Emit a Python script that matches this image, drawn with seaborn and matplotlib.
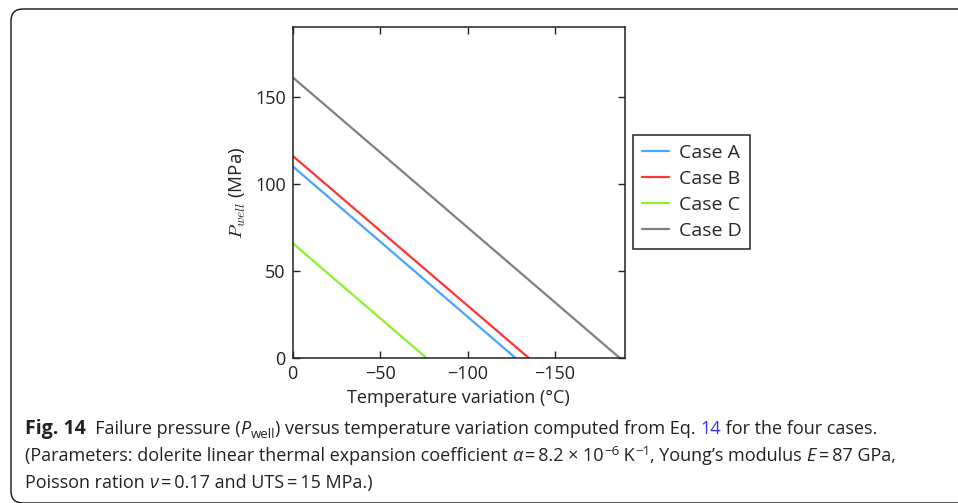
import numpy as np
import pandas as pd
import matplotlib.pyplot as plt
import seaborn as sns
from matplotlib.patches import FancyBboxPatch
from matplotlib.transforms import IdentityTransform

# Values: each case is a straight line from
# (0, P at zero temperature change) down to (zero crossing, 0).
cases = ['Case A', 'Case B', 'Case C', 'Case D']
p_at_zero = [110, 116, 66, 161]
dt_at_failure = [-127.6, -135.2, -76.7, -187.2]
colors = ['#49a3ff', '#ff3434', '#8af22a', '#808080']

rows = []
for c, p0, dt in zip(cases, p_at_zero, dt_at_failure):
    rows.append((c, 0, p0))
    rows.append((c, dt, 0))
df = pd.DataFrame(rows, columns=['case', 'dT', 'P'])

sns.set_style('ticks')
plt.rcParams['font.family'] = ['Open Sans', 'DejaVu Sans']
plt.rcParams['mathtext.fontset'] = 'cm'

fig = plt.figure(figsize=(9.58, 5.03), dpi=100)
ax = fig.add_axes([0.3055, 0.2877, 0.3469, 0.6592])

sns.lineplot(data=df, x='dT', y='P', hue='case', palette=dict(zip(cases, colors)),
             linewidth=1.6, ax=ax)

ax.set_xlim(0, -190)
ax.set_ylim(0, 190)
ax.set_xticks([0, -50, -100, -150])
ax.set_yticks([0, 50, 100, 150])
ax.tick_params(direction='in', length=5, width=1, top=True, right=True,
               labelsize=13, colors='#222222', pad=5)
for s in ax.spines.values():
    s.set_linewidth(1.1)
    s.set_color('#222222')

ax.set_xlabel('Temperature variation (°C)', fontsize=13, color='#222222')
ax.set_ylabel(r'$P_{well}$ (MPa)', fontsize=13.5, color='#222222')
ax.xaxis.set_label_coords(0.5, -0.093)
ax.yaxis.set_label_coords(-0.135, 0.5)

sns.move_legend(ax, 'upper left', bbox_to_anchor=(633 / 958, 1 - 135 / 503),
                bbox_transform=fig.transFigure, title=None, frameon=True,
                fontsize=14, handlelength=1.4, handletextpad=0.5, labelspacing=0.42,
                borderaxespad=0, fancybox=False, framealpha=1,
                edgecolor='#222222', borderpad=0.45)
ax.get_legend().get_frame().set_linewidth(1.1)

# rounded frame round the figure, drawn in pixel coordinates
frame = FancyBboxPatch((11, 0), 990, 494, boxstyle='round,pad=0,rounding_size=12',
                       transform=IdentityTransform(), fill=False, lw=1, ec='#111111')
fig.patches.append(frame)

# caption, set piece by piece so bold, italic, colour and sub/superscripts fit
renderer = fig.canvas.get_renderer()
cap = dict(fontsize=13.0, color='#222222', family=['Open Sans', 'DejaVu Sans'])


def put(parts, x, y):
    for text, kw in parts:
        opts = dict(cap)
        dy = kw.pop('dy', 0)
        opts.update(kw)
        t = fig.text(x, y + dy, text, transform=IdentityTransform(), va='baseline', **opts)
        x += t.get_window_extent(renderer).width


put([('Fig. 14', dict(weight='bold', fontsize=14)),
     ('  Failure pressure (', {}),
     ('P', dict(style='italic')),
     ('well', dict(fontsize=9.5, dy=-4)),
     (') versus temperature variation computed from Eq. ', {}),
     ('14', dict(color='#3333ee')),
     (' for the four cases.', {})], 25, 503 - 434)
put([('(Parameters: dolerite linear thermal expansion coefficient ', {}),
     ('α', dict(style='italic')),
     ('\u2009=\u20098.2 × 10', {}),
     ('−6', dict(fontsize=9.5, dy=6)),
     (' K', {}),
     ('−1', dict(fontsize=9.5, dy=6)),
     (', Young’s modulus ', {}),
     ('E', dict(style='italic')),
     ('\u2009=\u200987 GPa,', {})], 25, 503 - 461)
put([('Poisson ration ', {}),
     ('ν', dict(style='italic')),
     ('\u2009=\u20090.17 and UTS\u2009=\u200915 MPa.)', {})], 25, 503 - 488)

fig.savefig('out.png', dpi=100)
